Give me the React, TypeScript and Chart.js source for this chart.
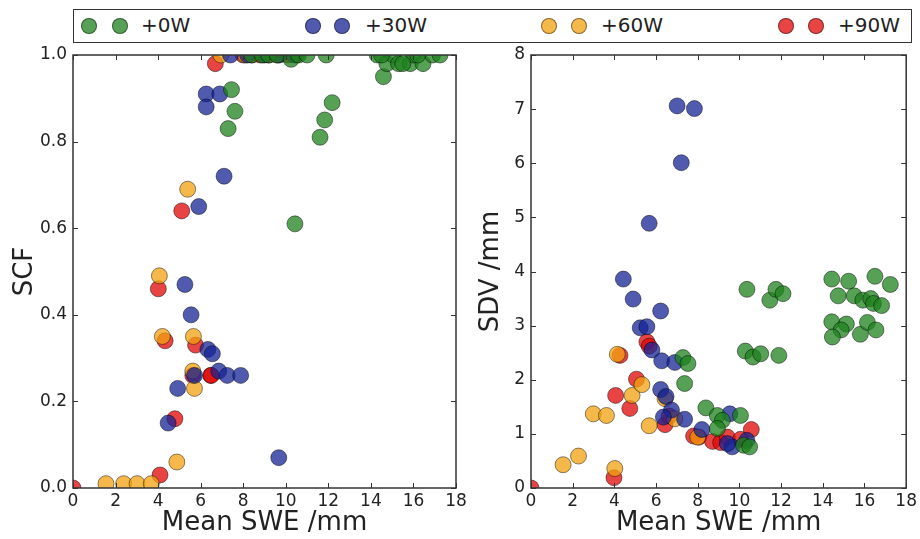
import React, { useEffect, useRef } from "react";
import { Chart, registerables } from "chart.js";

Chart.register(...registerables);

// ---------- Data ----------
const seriesLabels = ["+0W", "+30W", "+60W", "+90W"];
const seriesColors = [
  "rgba(30,130,30,0.75)",
  "rgba(22,36,150,0.75)",
  "rgba(241,161,15,0.75)",
  "rgba(224,5,5,0.75)",
];
const xTicks = [0, 2, 4, 6, 8, 10, 12, 14, 16, 18];
const scfTicks = [0.0, 0.2, 0.4, 0.6, 0.8, 1.0];
const sdvTicks = [0, 1, 2, 3, 4, 5, 6, 7, 8];

// SCF panel
const scfGreenX = [7.45, 7.61, 7.29, 12.18, 11.83, 11.61, 10.43, 14.59, 8.4, 8.9, 9.2, 9.6, 10.25, 10.6, 11.0, 11.9, 14.3, 14.75, 15.05, 15.3, 15.85, 16.0, 16.45, 16.9, 17.25, 14.5, 15.5, 16.2];
const scfGreenY = [0.92, 0.87, 0.83, 0.89, 0.85, 0.81, 0.61, 0.95, 1.0, 1.0, 1.0, 1.0, 0.99, 1.0, 1.0, 1.0, 1.0, 0.98, 1.0, 0.98, 0.98, 1.0, 0.98, 1.0, 1.0, 1.0, 0.98, 1.0];
const scfBlueX = [6.26, 6.9, 6.26, 7.1, 5.91, 5.26, 5.55, 6.34, 6.55, 6.85, 7.25, 7.88, 5.71, 4.92, 4.47, 9.67, 7.4, 8.2, 9.0, 9.7, 10.4];
const scfBlueY = [0.91, 0.91, 0.88, 0.72, 0.65, 0.47, 0.4, 0.32, 0.31, 0.27, 0.26, 0.26, 0.26, 0.23, 0.15, 0.07, 1.0, 1.0, 1.0, 1.0, 1.0];
const scfOrangeX = [5.39, 4.06, 4.2, 5.66, 5.63, 5.71, 4.88, 1.55, 2.38, 3.01, 3.68, 6.95, 8.1];
const scfOrangeY = [0.69, 0.49, 0.35, 0.35, 0.27, 0.23, 0.06, 0.01, 0.01, 0.01, 0.01, 1.0, 1.0];
const scfRedX = [0, 6.69, 5.11, 4.01, 4.33, 5.76, 5.63, 6.47, 6.5, 4.79, 4.09, 8.0, 8.4, 8.8, 9.2, 9.6, 10.1, 10.5];
const scfRedY = [0, 0.98, 0.64, 0.46, 0.34, 0.33, 0.26, 0.26, 0.26, 0.16, 0.03, 1.0, 1.0, 1.0, 1.0, 1.0, 1.0, 1.0];

// SDV panel
const sdvGreenX = [7.29, 7.53, 7.37, 8.39, 8.94, 9.18, 10.05, 8.94, 10.2, 10.49, 10.36, 10.28, 10.65, 11.02, 11.89, 11.46, 11.75, 12.09, 14.43, 15.24, 16.5, 17.24, 14.74, 15.51, 15.92, 16.3, 16.43, 16.82, 14.43, 15.13, 14.88, 14.46, 15.8, 16.14, 16.55];
const sdvGreenY = [2.41, 2.3, 1.93, 1.48, 1.34, 1.25, 1.34, 1.1, 0.79, 0.76, 3.67, 2.53, 2.42, 2.48, 2.45, 3.47, 3.67, 3.59, 3.86, 3.82, 3.91, 3.76, 3.55, 3.55, 3.47, 3.5, 3.41, 3.37, 3.07, 3.03, 2.92, 2.79, 2.84, 3.06, 2.92];
const sdvBlueX = [7.01, 7.84, 7.21, 5.67, 4.43, 4.9, 6.22, 5.24, 5.56, 5.8, 6.27, 6.9, 6.22, 6.48, 6.74, 7.37, 8.2, 9.54, 9.65, 9.42, 10.36, 6.35];
const sdvBlueY = [7.06, 7.01, 6.01, 4.89, 3.86, 3.49, 3.27, 2.96, 2.98, 2.55, 2.35, 2.32, 1.82, 1.69, 1.44, 1.27, 1.08, 1.37, 0.76, 0.82, 0.88, 1.31];
const sdvOrangeX = [1.54, 2.28, 2.99, 3.62, 4.02, 4.14, 4.85, 5.32, 5.67, 6.43, 6.9, 8.0];
const sdvOrangeY = [0.43, 0.59, 1.37, 1.34, 0.36, 2.47, 1.71, 1.91, 1.15, 1.65, 1.28, 0.94];
const sdvRedX = [0, 3.98, 4.06, 4.27, 4.74, 5.06, 5.56, 5.67, 6.43, 6.63, 7.8, 8.05, 8.71, 9.1, 9.42, 10.05, 10.57];
const sdvRedY = [0, 0.19, 1.71, 2.45, 1.47, 2.01, 2.7, 2.62, 1.17, 1.33, 0.96, 0.94, 0.86, 0.84, 0.94, 0.9, 1.08];

const FONT = "'DejaVu Sans', sans-serif";
const TEXT = "#222";

function pts(xs: number[], ys: number[]) {
  return xs.map((x, i) => ({ x, y: ys[i] }));
}

function makeDatasets(series: [number[], number[]][]) {
  return series.map(([xs, ys], i) => ({
    label: seriesLabels[i],
    data: pts(xs, ys),
    backgroundColor: seriesColors[i],
    borderColor: "rgba(0,0,0,0.45)",
    borderWidth: 1,
    pointRadius: 8,
    clip: 0,
  }));
}

const framePlugin = {
  id: "frame",
  afterDraw(chart: any) {
    const { ctx, chartArea } = chart;
    const { left, right, top, bottom } = chartArea;
    const xs = chart.scales.x;
    const ys = chart.scales.y;
    const L = 5;
    ctx.save();
    ctx.strokeStyle = "#333";
    ctx.lineWidth = 1;
    ctx.beginPath();
    xs.ticks.forEach((t: any) => {
      const p = Math.round(xs.getPixelForValue(t.value)) + 0.5;
      ctx.moveTo(p, bottom);
      ctx.lineTo(p, bottom - L);
      ctx.moveTo(p, top);
      ctx.lineTo(p, top + L);
    });
    ys.ticks.forEach((t: any) => {
      const p = Math.round(ys.getPixelForValue(t.value)) + 0.5;
      ctx.moveTo(left, p);
      ctx.lineTo(left + L, p);
      ctx.moveTo(right, p);
      ctx.lineTo(right - L, p);
    });
    ctx.stroke();
    ctx.lineWidth = 1.5;
    ctx.strokeRect(left, top, right - left, bottom - top);
    ctx.restore();
  },
};

function makeConfig(
  series: [number[], number[]][],
  yMax: number,
  yStep: number,
  yTitle: string,
  yWidth: number,
  rightPad: number,
  yTitlePad: number,
  yFmt: (v: number) => string
): any {
  return {
    type: "scatter",
    data: { datasets: makeDatasets(series) },
    options: {
      animation: false,
      responsive: false,
      maintainAspectRatio: false,
      layout: { padding: { top: 55, right: rightPad, left: 0, bottom: 0 } },
      plugins: { legend: { display: false }, tooltip: { enabled: false } },
      scales: {
        x: {
          type: "linear",
          min: xTicks[0],
          max: xTicks[xTicks.length - 1],
          afterBuildTicks: (s: any) => {
            s.ticks = xTicks.map((v) => ({ value: v }));
          },
          afterFit: (s: any) => {
            s.height = 51;
          },
          grid: { display: false, drawTicks: false },
          border: { display: false },
          ticks: {
            padding: 3,
            color: TEXT,
            font: { family: FONT, size: 17 },
            maxRotation: 0,
            callback: (v: number) => String(v),
          },
          title: {
            display: true,
            text: "Mean SWE /mm",
            color: TEXT,
            font: { family: FONT, size: 26 },
            padding: { top: 0, bottom: 0 },
          },
        },
        y: {
          type: "linear",
          min: 0,
          max: yMax,
          ticks: {
            stepSize: yStep,
            padding: 6,
            color: TEXT,
            font: { family: FONT, size: 17 },
            callback: (v: number) => yFmt(v),
          },
          afterFit: (s: any) => {
            s.width = yWidth;
          },
          grid: { display: false, drawTicks: false },
          border: { display: false },
          title: {
            display: true,
            text: yTitle,
            color: TEXT,
            font: { family: FONT, size: 26 },
            padding: { top: yTitlePad, bottom: 0 },
          },
        },
      },
    },
    plugins: [framePlugin],
  };
}

function Legend() {
  const items = [
    { m: [88, 119], t: 140 },
    { m: [312, 341], t: 364 },
    { m: [548, 578], t: 600 },
    { m: [785, 815], t: 837 },
  ];
  return (
    <div
      style={{
        position: "absolute",
        left: 73,
        top: 9,
        width: 839,
        height: 34,
        boxSizing: "border-box",
        border: "1.5px solid #333",
        background: "#fff",
      }}
    >
      {items.map((it, i) => (
        <React.Fragment key={i}>
          {it.m.map((cx, j) => (
            <div
              key={j}
              style={{
                position: "absolute",
                left: cx - 73 - 8,
                top: 17 - 8 - 1.5,
                width: 16,
                height: 16,
                borderRadius: "50%",
                boxSizing: "border-box",
                background: seriesColors[i],
                border: "1px solid rgba(0,0,0,0.45)",
              }}
            />
          ))}
          <div
            style={{
              position: "absolute",
              left: it.t - 73,
              top: 0,
              height: 31,
              lineHeight: "31px",
              fontFamily: FONT,
              fontSize: 20,
              color: TEXT,
              whiteSpace: "nowrap",
            }}
          >
            {seriesLabels[i]}
          </div>
        </React.Fragment>
      ))}
    </div>
  );
}

export default function App() {
  const leftRef = useRef<HTMLCanvasElement>(null);
  const rightRef = useRef<HTMLCanvasElement>(null);

  useEffect(() => {
    document.body.style.margin = "0";
    const c1 = new Chart(
      leftRef.current as HTMLCanvasElement,
      makeConfig(
        [
          [scfGreenX, scfGreenY],
          [scfBlueX, scfBlueY],
          [scfOrangeX, scfOrangeY],
          [scfRedX, scfRedY],
        ],
        scfTicks[scfTicks.length - 1],
        0.2,
        "SCF",
        73,
        14,
        10,
        (v) => v.toFixed(1)
      )
    );
    const c2 = new Chart(
      rightRef.current as HTMLCanvasElement,
      makeConfig(
        [
          [sdvGreenX, sdvGreenY],
          [sdvBlueX, sdvBlueY],
          [sdvOrangeX, sdvOrangeY],
          [sdvRedX, sdvRedY],
        ],
        sdvTicks[sdvTicks.length - 1],
        1,
        "SDV /mm",
        61,
        8,
        6,
        (v) => String(Math.round(v))
      )
    );
    return () => {
      c1.destroy();
      c2.destroy();
    };
  }, []);

  return (
    <div
      style={{
        position: "fixed",
        left: 0,
        top: 0,
        width: 920,
        height: 539,
        background: "#fff",
        overflow: "hidden",
      }}
    >
      <canvas
        ref={leftRef}
        width={470}
        height={539}
        style={{ position: "absolute", left: 0, top: 0, width: 470, height: 539 }}
      />
      <canvas
        ref={rightRef}
        width={450}
        height={539}
        style={{ position: "absolute", left: 470, top: 0, width: 450, height: 539 }}
      />
      <Legend />
    </div>
  );
}
